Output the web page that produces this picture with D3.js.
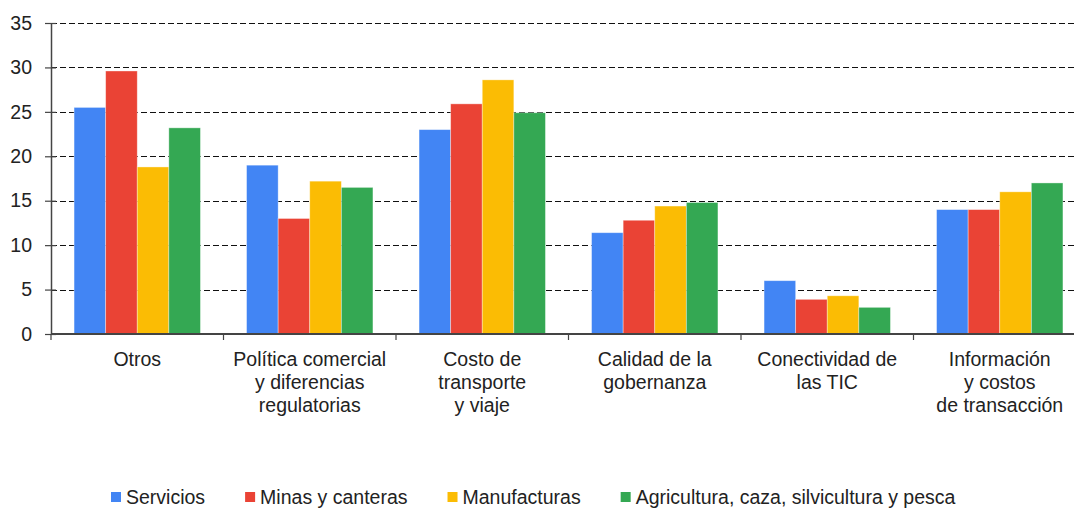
<!DOCTYPE html>
<html>
<head>
<meta charset="utf-8">
<script src="https://cdn.jsdelivr.net/npm/d3@7"></script>
<style>
  body { margin: 0; background: #fff; }
  text { font-family: "Liberation Sans", Arial, sans-serif; fill: #222; }
</style>
</head>
<body>
<div id="chart"></div>
<script>
// categories (line breaks as in the original)
var categories = [
  ["Otros"],
  ["Política comercial", "y diferencias", "regulatorias"],
  ["Costo de", "transporte", "y viaje"],
  ["Calidad de la", "gobernanza"],
  ["Conectividad de", "las TIC"],
  ["Información", "y costos", "de transacción"]
];
var seriesNames = ["Servicios", "Minas y canteras", "Manufacturas", "Agricultura, caza, silvicultura y pesca"];
var servicios     = [25.5, 19.0, 23.0, 11.4, 6.0, 14.0];
var minas         = [29.6, 13.0, 25.9, 12.8, 3.9, 14.0];
var manufacturas  = [18.8, 17.2, 28.6, 14.4, 4.3, 16.0];
var agricultura   = [23.2, 16.5, 24.9, 14.8, 3.0, 17.0];
var yTicks = [0, 5, 10, 15, 20, 25, 30, 35];

var colors = ["#4285F4", "#EA4335", "#FBBC04", "#34A853"];
var series = [servicios, minas, manufacturas, agricultura];

var W = 1074, H = 509;
var margin = {top: 23, left: 51, bottom: 175};
var plotRight = 1086; // plot runs past the right edge, as in the picture
var height = H - margin.top - margin.bottom;
var fs = "19.5px";

var svg = d3.select("#chart").append("svg")
    .attr("width", W)
    .attr("height", H);

var x0 = d3.scaleBand()
    .domain(d3.range(categories.length))
    .range([margin.left, plotRight]);

var x1 = d3.scaleBand()
    .domain(d3.range(series.length))
    .range([0, x0.bandwidth()])
    .paddingOuter(0.73)
    .paddingInner(0);

var y = d3.scaleLinear()
    .domain([0, 35])
    .range([margin.top + height, margin.top]);

// gridlines
svg.append("g")
  .selectAll("line")
  .data(yTicks.filter(function(d) { return d > 0; }))
  .enter().append("line")
    .attr("x1", margin.left)
    .attr("x2", W)
    .attr("y1", function(d) { return Math.round(y(d)) + 0.5; })
    .attr("y2", function(d) { return Math.round(y(d)) + 0.5; })
    .attr("stroke", "#111")
    .attr("stroke-width", 1.2)
    .attr("stroke-dasharray", "6,3");

// bars
var groups = svg.append("g")
  .selectAll("g")
  .data(categories.map(function(c, i) { return i; }))
  .enter().append("g")
    .attr("transform", function(i) { return "translate(" + x0(i) + ",0)"; });

groups.selectAll("rect")
  .data(function(i) { return series.map(function(s, k) { return {k: k, v: s[i]}; }); })
  .enter().append("rect")
    .attr("x", function(d) { return x1(d.k); })
    .attr("width", x1.bandwidth())
    .attr("y", function(d) { return y(d.v); })
    .attr("height", function(d) { return y(0) - y(d.v); })
    .attr("fill", function(d) { return colors[d.k]; })
    .attr("stroke", "rgba(255,255,255,0.45)")
    .attr("stroke-width", 0.8);

// y axis
var yAxis = svg.append("g")
    .attr("transform", "translate(" + margin.left + ",0)")
    .call(d3.axisLeft(y).tickValues(yTicks).tickSize(6).tickSizeOuter(0).tickPadding(13));
yAxis.select(".domain").attr("stroke", "#444").attr("stroke-width", 1.5);
yAxis.selectAll(".tick line").attr("x2", -6).attr("x1", 5).attr("stroke", "#444").attr("stroke-width", 1.2);
yAxis.selectAll(".tick text")
    .style("font-size", fs)
    .attr("fill", "#222");

// x axis
var xAxis = svg.append("g")
    .attr("transform", "translate(0," + y(0) + ")");
xAxis.append("line")
    .attr("x1", margin.left).attr("x2", W)
    .attr("stroke", "#444").attr("stroke-width", 2);
xAxis.selectAll(".xtick")
  .data(d3.range(categories.length + 1))
  .enter().append("line")
    .attr("x1", function(i) { return margin.left + i * x0.bandwidth(); })
    .attr("x2", function(i) { return margin.left + i * x0.bandwidth(); })
    .attr("y1", 0).attr("y2", 6)
    .attr("stroke", "#444").attr("stroke-width", 1.2);

var labels = xAxis.selectAll(".xlabel")
  .data(categories)
  .enter().append("text")
    .attr("text-anchor", "middle")
    .style("font-size", fs)
    .attr("transform", function(c, i) { return "translate(" + (x0(i) + x0.bandwidth() / 2) + ",32)"; });
labels.selectAll("tspan")
  .data(function(c) { return c; })
  .enter().append("tspan")
    .attr("x", 0)
    .attr("y", function(d, j) { return j * 23; })
    .text(function(d) { return d; });

// legend
var legend = svg.append("g").attr("transform", "translate(0,497)");
var lx = 111;
seriesNames.forEach(function(name, k) {
  legend.append("rect")
    .attr("x", lx).attr("y", -5)
    .attr("width", 10).attr("height", 10)
    .attr("fill", colors[k]);
  var t = legend.append("text")
    .attr("x", lx + 15).attr("y", 7)
    .style("font-size", fs)
    .text(name);
  lx += 15 + t.node().getComputedTextLength() + 40;
});
</script>
</body>
</html>
